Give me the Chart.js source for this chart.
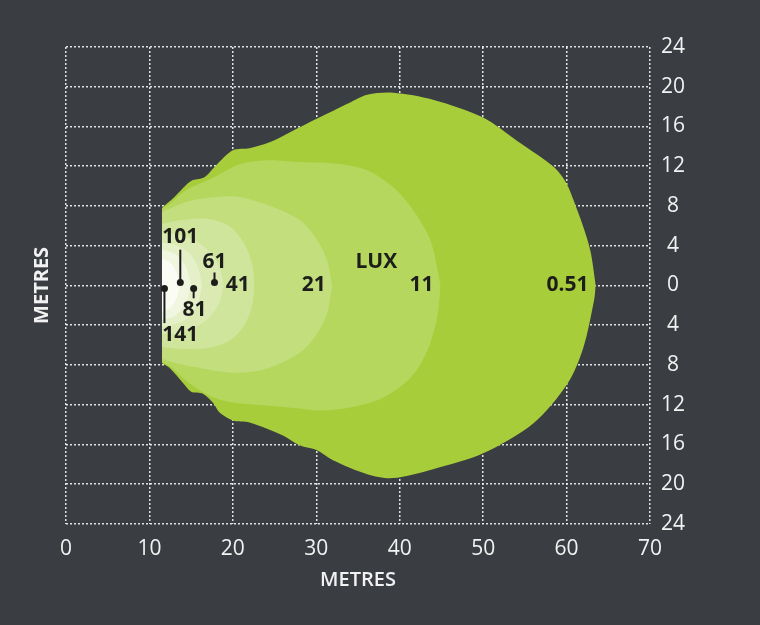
<!DOCTYPE html>
<html>
<head>
<meta charset="utf-8">
<script src="https://cdn.jsdelivr.net/npm/chart.js@4.4.0/dist/chart.umd.min.js"></script>
<style>
  html, body { margin: 0; padding: 0; background: #3a3d42; }
</style>
</head>
<body>
<canvas id="canvas" width="760" height="625"></canvas>
<script>
// lux contours in metres (top edge and bottom edge of each zone)
var lux051TopX = [11.5, 13.0, 14.4, 15.2, 16.6, 18.0, 20.0, 22.0, 24.4, 26.8, 30.1, 34.0, 36.1, 39.2, 44.0, 50.0, 54.3, 58.5, 59.9, 61.1, 62.2, 62.9, 63.5];
var lux051TopY = [7.8, 8.9, 10.1, 10.6, 10.9, 12.1, 13.6, 13.8, 14.4, 15.4, 16.8, 18.4, 19.2, 19.4, 18.7, 16.9, 14.4, 11.9, 10.4, 8.0, 5.4, 3.3, 0];
var lux051BotX = [11.5, 12.4, 14.0, 15.0, 16.4, 17.6, 18.4, 20.0, 22.0, 26.0, 28.0, 30.1, 32.0, 36.1, 39.2, 44.0, 50.0, 56.0, 60.1, 62.0, 63.3, 63.5];
var lux051BotY = [-7.8, -8.3, -9.8, -10.7, -10.9, -11.8, -12.8, -13.6, -13.8, -15.1, -16.1, -16.6, -17.6, -19.0, -19.4, -18.5, -16.9, -13.9, -9.9, -6.3, -1.5, 0];

var lux11TopX = [11.5, 12.4, 14.4, 16.8, 18.4, 20.8, 24.0, 28.4, 32.0, 36.1, 39.2, 41.6, 43.7, 44.9];
var lux11TopY = [7.7, 8.2, 9.6, 10.5, 11.2, 12.2, 12.6, 12.4, 12.3, 11.6, 9.9, 7.6, 4.5, 0];
var lux11BotX = [11.5, 12.4, 14.4, 17.2, 20.0, 24.0, 28.0, 30.4, 34.0, 38.0, 41.3, 43.3, 44.5, 44.9];
var lux11BotY = [-7.7, -8.1, -9.6, -11.1, -11.8, -12.1, -12.4, -12.6, -12.3, -11.3, -9.3, -6.6, -3.2, 0];

var lux21TopX = [11.5, 14.8, 18.0, 20.8, 24.8, 28.0, 30.0, 31.3, 31.9];
var lux21TopY = [7.4, 8.5, 8.9, 8.9, 7.9, 6.6, 4.7, 2.5, 0];
var lux21BotX = [11.5, 14.0, 20.0, 24.0, 28.0, 30.0, 31.3, 31.9];
var lux21BotY = [-7.4, -8.0, -8.8, -8.4, -6.8, -5.0, -2.8, 0];

var lux41TopX = [11.5, 14.0, 17.0, 19.5, 21.3, 22.3, 22.6];
var lux41TopY = [6.2, 6.6, 6.7, 6.0, 4.3, 2.2, 0];
var lux41BotX = [11.5, 14.0, 17.0, 19.5, 21.3, 22.3, 22.6];
var lux41BotY = [-6.2, -6.4, -6.3, -5.6, -4.1, -2.1, 0];

var lux61TopX = [11.5, 13.5, 15.5, 17.2, 18.4, 18.9];
var lux61TopY = [5.2, 5.1, 4.5, 3.4, 1.8, 0];
var lux61BotX = [11.5, 13.5, 15.5, 17.2, 18.4, 18.9];
var lux61BotY = [-4.9, -4.8, -4.2, -3.2, -1.7, 0];

var lux81TopX = [11.5, 13.0, 14.7, 15.8, 16.3];
var lux81TopY = [4.3, 4.1, 3.3, 1.9, 0];
var lux81BotX = [11.5, 13.0, 14.7, 15.8, 16.3];
var lux81BotY = [-4.1, -3.9, -3.2, -1.8, 0];

var lux101TopX = [11.5, 13.0, 14.3, 15.0];
var lux101TopY = [3.6, 3.2, 2.0, 0];
var lux101BotX = [11.5, 13.0, 14.3, 15.0];
var lux101BotY = [-3.5, -3.1, -1.9, 0];

var lux141TopX = [11.5, 12.6, 13.3, 13.6];
var lux141TopY = [2.7, 2.2, 1.2, 0];
var lux141BotX = [11.5, 12.6, 13.3, 13.6];
var lux141BotY = [-2.7, -2.2, -1.2, 0];

// zone labels on the plot
var labelText = ["101", "61", "41", "21", "LUX", "11", "0.51", "81", "141"];
var labelX = [13.7, 17.8, 20.6, 29.7, 37.2, 42.6, 60.1, 15.4, 13.7];
var labelY = [4.9, 2.4, 0, 0, 2.4, 0, 0, -2.5, -5.0];

// leader lines with dots (141, 101, 81, 61)
var leaderX = [11.8, 13.7, 15.3, 17.8];
var leaderDotY = [-0.3, 0.3, -0.3, 0.3];
var leaderEndY = [-3.8, 3.6, -1.3, 1.3];

// x ticks 0..70, y ticks -24..24 shown as absolute
var xTicks = [0, 10, 20, 30, 40, 50, 60, 70];
var yTicks = [-24, -20, -16, -12, -8, -4, 0, 4, 8, 12, 16, 20, 24];

var zones = [
  { name: "141", colour: "#fbfdf4", tx: lux141TopX, ty: lux141TopY, bx: lux141BotX, by: lux141BotY },
  { name: "101", colour: "#f0f6e0", tx: lux101TopX, ty: lux101TopY, bx: lux101BotX, by: lux101BotY },
  { name: "81", colour: "#e5f0c9", tx: lux81TopX, ty: lux81TopY, bx: lux81BotX, by: lux81BotY },
  { name: "61", colour: "#daeab2", tx: lux61TopX, ty: lux61TopY, bx: lux61BotX, by: lux61BotY },
  { name: "41", colour: "#cfe59c", tx: lux41TopX, ty: lux41TopY, bx: lux41BotX, by: lux41BotY },
  { name: "21", colour: "#c2de7d", tx: lux21TopX, ty: lux21TopY, bx: lux21BotX, by: lux21BotY },
  { name: "11", colour: "#b5d75d", tx: lux11TopX, ty: lux11TopY, bx: lux11BotX, by: lux11BotY },
  { name: "0.51", colour: "#a7cd3a", tx: lux051TopX, ty: lux051TopY, bx: lux051BotX, by: lux051BotY },
];

function toPoints(xs, ys) {
  return xs.map(function (v, i) { return { x: v, y: ys[i] }; });
}

var datasets = [];
zones.forEach(function (z) {
  datasets.push({
    label: z.name + " top",
    data: toPoints(z.tx, z.ty),
    backgroundColor: z.colour,
    borderWidth: 0,
    pointRadius: 0,
    tension: 0.3,
    fill: "+1",
  });
  datasets.push({
    label: z.name + " bottom",
    data: toPoints(z.bx, z.by),
    backgroundColor: z.colour,
    borderWidth: 0,
    pointRadius: 0,
    tension: 0.3,
    fill: false,
  });
});

var textColour = "#f2f2f2";
var gridColour = "rgba(255,255,255,0.85)";
var tickFont = { family: "'Open Sans', sans-serif", size: 21 };

const contourLabels = {
  id: "contourLabels",
  afterDatasetsDraw(chart) {
    const ctx = chart.ctx;
    const x = chart.scales.x;
    const y = chart.scales.y;
    ctx.save();
    ctx.strokeStyle = "#1d1d1b";
    ctx.fillStyle = "#1d1d1b";
    ctx.lineWidth = 2;
    for (let i = 0; i < leaderX.length; i++) {
      const px = x.getPixelForValue(leaderX[i]);
      const py0 = y.getPixelForValue(leaderDotY[i]);
      const py1 = y.getPixelForValue(leaderEndY[i]);
      ctx.beginPath();
      ctx.moveTo(px, py0);
      ctx.lineTo(px, py1);
      ctx.stroke();
      ctx.beginPath();
      ctx.arc(px, py0, 3.5, 0, Math.PI * 2);
      ctx.fill();
    }
    ctx.font = "bold 21px 'Open Sans', sans-serif";
    ctx.textAlign = "center";
    ctx.textBaseline = "middle";
    for (let i = 0; i < labelText.length; i++) {
      ctx.fillText(labelText[i], x.getPixelForValue(labelX[i]), y.getPixelForValue(labelY[i]));
    }
    ctx.restore();
  },
};

const config = {
  type: "line",
  data: { datasets: datasets },
  options: {
    responsive: false,
    animation: false,
    layout: { padding: { top: 47, right: 64, bottom: 33, left: 30 } },
    plugins: {
      legend: { display: false },
      tooltip: { enabled: false },
    },
    scales: {
      x: {
        type: "linear",
        min: 0,
        max: 70,
        afterBuildTicks: function (axis) {
          axis.ticks = xTicks.map(function (v) { return { value: v }; });
        },
        ticks: { color: textColour, font: tickFont, padding: 13, maxRotation: 0 },
        grid: { color: gridColour, lineWidth: 1.5, drawTicks: false },
        border: { display: false, dash: [2, 2] },
        title: {
          display: true,
          text: "METRES",
          color: textColour,
          font: { family: "'Open Sans', sans-serif", size: 20, weight: "600" },
          padding: { top: -7, bottom: 0 },
        },
      },
      y: {
        type: "linear",
        position: "right",
        min: -24,
        max: 24,
        afterBuildTicks: function (axis) {
          axis.ticks = yTicks.map(function (v) { return { value: v }; });
        },
        ticks: {
          color: textColour,
          font: tickFont,
          padding: 11,
          crossAlign: "center",
          callback: function (v) { return Math.abs(v); },
        },
        grid: { color: gridColour, lineWidth: 1.5, drawTicks: false },
        border: { display: false, dash: [2, 2] },
      },
      yl: {
        type: "linear",
        position: "left",
        ticks: { display: false },
        grid: { display: false, drawTicks: false },
        border: { display: false },
        title: {
          display: true,
          text: "METRES",
          color: textColour,
          font: { family: "'Open Sans', sans-serif", size: 20, weight: "bold" },
          padding: { top: 0, bottom: 12 },
        },
      },
    },
  },
  plugins: [contourLabels],
};

const myChart = new Chart(document.getElementById("canvas"), config);
</script>
</body>
</html>
